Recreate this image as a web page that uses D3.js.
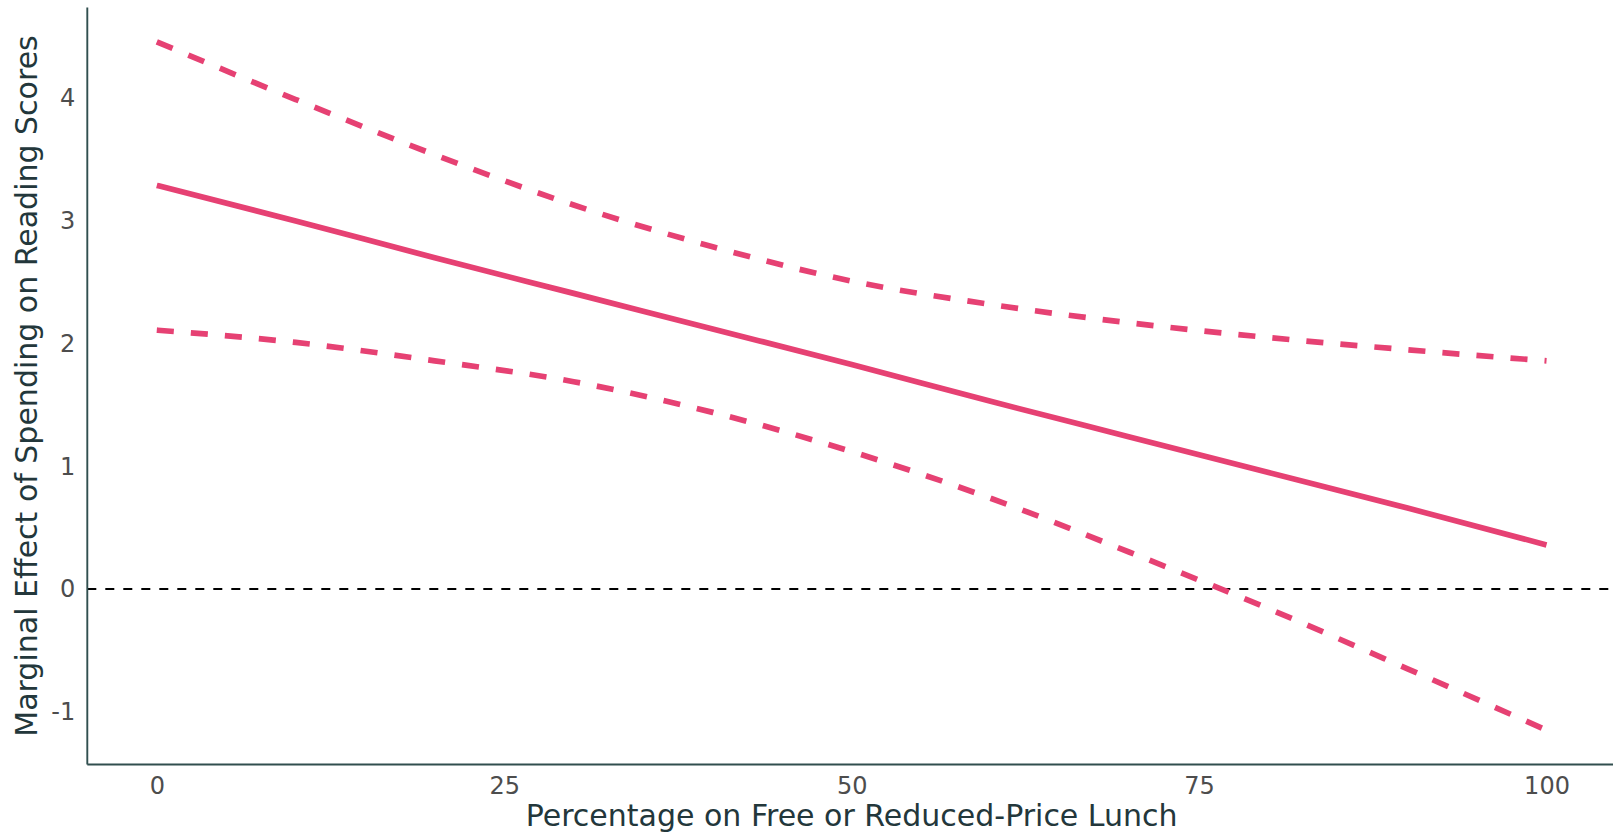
<!DOCTYPE html>
<html>
<head>
<meta charset="utf-8">
<script src="https://cdn.jsdelivr.net/npm/d3@7"></script>
<style>
  html, body { margin: 0; padding: 0; background: #ffffff; }
  svg { display: block; }
</style>
</head>
<body>
<svg id="chart" width="1619" height="833"></svg>
<script>
// Share of students on free or reduced-price lunch (%)
const lunchPct = [0, 10, 20, 30, 40, 50, 60, 70, 80, 90, 100];
// Estimated marginal effect of spending on reading scores
const effect = [3.29, 3.00, 2.70, 2.41, 2.12, 1.83, 1.53, 1.24, 0.95, 0.66, 0.36];
// 95% confidence bounds
const upperCI = [4.46, 3.99, 3.54, 3.13, 2.79, 2.51, 2.32, 2.17, 2.05, 1.95, 1.86];
const lowerCI = [2.11, 2.01, 1.86, 1.69, 1.44, 1.12, 0.74, 0.30, -0.16, -0.65, -1.15];
const xTicks = [0, 25, 50, 75, 100];
const yTicks = [-1, 0, 1, 2, 3, 4];

const xTitle = "Percentage on Free or Reduced-Price Lunch";
const yTitle = "Marginal Effect of Spending on Reading Scores";

const pink = "#e64173";
const slate = "#314f4f";
const titleCol = "#23373b";
const tickCol = "#4d4d4d";
const font = "'DejaVu Sans', Verdana, sans-serif";

const svg = d3.select("#chart");
const plotLeft = 87.3, plotRight = 1616, plotTop = 7.5, plotBottom = 764.5;

const x = d3.scaleLinear().domain([-5, 105]).range([plotLeft, plotRight]);
const y = d3.scaleLinear().domain([-1.43, 4.74]).range([plotBottom, plotTop]);

// zero reference line
svg.append("line")
  .attr("x1", plotLeft).attr("x2", plotRight)
  .attr("y1", y(0)).attr("y2", y(0))
  .attr("stroke", "#000").attr("stroke-width", 1.9)
  .attr("stroke-dasharray", "9,9");

const line = d3.line().x(d => x(d[0])).y(d => y(d[1])).curve(d3.curveMonotoneX);
const series = [
  { vals: upperCI, dash: "17.07,17.07" },
  { vals: lowerCI, dash: "17.07,17.07" },
  { vals: effect, dash: null }
];
series.forEach(s => {
  svg.append("path")
    .datum(lunchPct.map((p, i) => [p, s.vals[i]]))
    .attr("d", line)
    .attr("fill", "none")
    .attr("stroke", pink)
    .attr("stroke-width", 5.69)
    .attr("stroke-dasharray", s.dash);
});

// axes (plain hyphen for negatives)
const fmt = d => String(d);
const xAxis = svg.append("g").attr("transform", `translate(0,${plotBottom})`)
  .call(d3.axisBottom(x).tickValues(xTicks).tickFormat(fmt).tickSize(0).tickPadding(12));
const yAxis = svg.append("g").attr("transform", `translate(${plotLeft},0)`)
  .call(d3.axisLeft(y).tickValues(yTicks).tickFormat(fmt).tickSize(0).tickPadding(12));

[xAxis, yAxis].forEach(g => {
  g.select(".domain").attr("stroke", slate).attr("stroke-width", 1.9);
  g.selectAll("text")
    .attr("fill", tickCol)
    .style("font-family", font)
    .style("font-size", "24px");
});
xAxis.select(".domain").attr("d", `M${plotLeft},0H1613`);
yAxis.select(".domain").attr("d", `M0,${plotTop}V${plotBottom}`);

// axis titles
svg.append("text")
  .attr("x", x(50)).attr("y", 826)
  .attr("text-anchor", "middle")
  .attr("fill", titleCol)
  .style("font-family", font).style("font-size", "30px")
  .text(xTitle);

svg.append("text")
  .attr("transform", `translate(37,${(plotTop + plotBottom) / 2}) rotate(-90)`)
  .attr("text-anchor", "middle")
  .attr("fill", titleCol)
  .style("font-family", font).style("font-size", "30px")
  .text(yTitle);
</script>
</body>
</html>
